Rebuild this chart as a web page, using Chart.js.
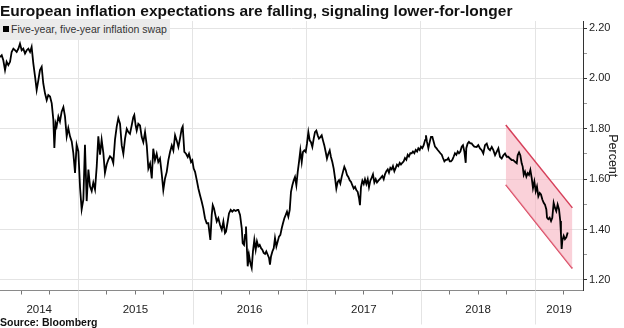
<!DOCTYPE html>
<html>
<head>
<meta charset="utf-8">
<script src="https://cdn.jsdelivr.net/npm/chart.js@4/dist/chart.umd.min.js"></script>
<style>
  html, body { margin: 0; padding: 0; background: #fff; }
  #wrap { position: relative; width: 624px; height: 328px; font-family: "Liberation Sans", Arial, sans-serif; }
  #title { position: absolute; left: 0; top: 2px; font-size: 15.5px; font-weight: bold; line-height: 17px; color: #111; white-space: nowrap; }
  #legend { position: absolute; left: 0; top: 19px; width: 170px; height: 21px; background: #ebebeb; font-size: 10.5px; line-height: 21px; color: #333; padding-left: 11px; box-sizing: border-box; white-space: nowrap; }
  #legend .sw { position: absolute; left: 3px; top: 7px; width: 6px; height: 6px; background: #000; }
  #source { position: absolute; left: 0; top: 316px; font-size: 10.5px; font-weight: bold; line-height: 12px; color: #111; }
</style>
</head>
<body>
<div id="wrap">
  <canvas id="chart"></canvas>
  <div id="title">European inflation expectations are falling, signaling lower-for-longer</div>
  <div id="legend"><span class="sw"></span>Five-year, five-year inflation swap</div>
  <div id="source">Source: Bloomberg</div>
</div>
<script>
"use strict";

// dates as decimal years, values in percent
const SWAP_DATES = [
  2014.314, 2014.329, 2014.343, 2014.358, 2014.372, 2014.387, 2014.402, 2014.416, 2014.431, 2014.445,
  2014.460, 2014.475, 2014.489, 2014.504, 2014.518, 2014.533, 2014.548, 2014.562, 2014.577, 2014.591,
  2014.606, 2014.621, 2014.635, 2014.650, 2014.664, 2014.679, 2014.693, 2014.708, 2014.723, 2014.737,
  2014.752, 2014.767, 2014.781, 2014.790, 2014.801, 2014.810, 2014.825, 2014.839, 2014.854, 2014.869,
  2014.883, 2014.898, 2014.912, 2014.927, 2014.942, 2014.956, 2014.971, 2014.985, 2015.000, 2015.015,
  2015.029, 2015.044, 2015.058, 2015.073, 2015.088, 2015.102, 2015.117, 2015.131, 2015.146, 2015.161,
  2015.175, 2015.190, 2015.204, 2015.219, 2015.233, 2015.248, 2015.263, 2015.277, 2015.292, 2015.306,
  2015.321, 2015.336, 2015.350,
  2015.365, 2015.380, 2015.394, 2015.409, 2015.424, 2015.438, 2015.452, 2015.467, 2015.481, 2015.490,
  2015.502, 2015.511, 2015.525, 2015.540, 2015.555, 2015.569, 2015.584, 2015.599, 2015.613, 2015.628,
  2015.643, 2015.656, 2015.671, 2015.686, 2015.700, 2015.715, 2015.730, 2015.744, 2015.759, 2015.774,
  2015.788, 2015.803, 2015.818, 2015.832, 2015.847, 2015.861, 2015.876, 2015.890, 2015.905, 2015.914,
  2015.928, 2015.943, 2015.958, 2015.969, 2015.987, 2015.998, 2016.010, 2016.022, 2016.037, 2016.051,
  2016.065, 2016.080, 2016.094, 2016.109, 2016.124, 2016.138, 2016.147, 2016.156, 2016.168, 2016.177,
  2016.188, 2016.197, 2016.212, 2016.226, 2016.241, 2016.256, 2016.270, 2016.284, 2016.293, 2016.308,
  2016.319, 2016.334, 2016.348, 2016.363, 2016.378, 2016.392,
  2016.401, 2016.416, 2016.431, 2016.439, 2016.451, 2016.460, 2016.468, 2016.477, 2016.483, 2016.494,
  2016.506, 2016.518, 2016.529, 2016.541, 2016.553, 2016.564, 2016.576, 2016.588, 2016.600, 2016.611,
  2016.623, 2016.635, 2016.646, 2016.658, 2016.670, 2016.678, 2016.687, 2016.699, 2016.711, 2016.722,
  2016.734, 2016.746, 2016.757, 2016.769, 2016.781, 2016.792, 2016.804, 2016.816, 2016.827, 2016.839,
  2016.851, 2016.862, 2016.874, 2016.886, 2016.897, 2016.909, 2016.921, 2016.932, 2016.944, 2016.956,
  2016.967, 2016.979, 2016.991, 2017.002, 2017.014, 2017.026, 2017.037, 2017.049, 2017.061, 2017.072,
  2017.084, 2017.096, 2017.107, 2017.119, 2017.131, 2017.142, 2017.154, 2017.166, 2017.177, 2017.189,
  2017.201, 2017.212, 2017.224, 2017.236, 2017.248, 2017.259, 2017.271, 2017.283, 2017.294, 2017.306,
  2017.317, 2017.329, 2017.341, 2017.353, 2017.364, 2017.376, 2017.388, 2017.399, 2017.411, 2017.423,
  2017.434, 2017.446, 2017.458, 2017.466,
  2017.475, 2017.487, 2017.499, 2017.510, 2017.522, 2017.534, 2017.545, 2017.557, 2017.569, 2017.580,
  2017.592, 2017.604, 2017.615, 2017.627, 2017.639, 2017.650, 2017.662, 2017.674, 2017.685, 2017.697,
  2017.709, 2017.720, 2017.732, 2017.744, 2017.755, 2017.767, 2017.779, 2017.790, 2017.802, 2017.814,
  2017.825, 2017.837, 2017.849, 2017.860, 2017.872, 2017.884, 2017.895, 2017.907, 2017.919, 2017.930,
  2017.942, 2017.954, 2017.966, 2017.977, 2017.989, 2018.000, 2018.012, 2018.024, 2018.036, 2018.044,
  2018.053, 2018.065, 2018.077, 2018.088, 2018.100, 2018.112, 2018.123, 2018.135, 2018.147, 2018.158,
  2018.170, 2018.182, 2018.193, 2018.205, 2018.217, 2018.228, 2018.240, 2018.252, 2018.263, 2018.275,
  2018.287, 2018.298, 2018.310, 2018.322, 2018.333, 2018.345, 2018.357, 2018.368, 2018.380, 2018.392,
  2018.397, 2018.409, 2018.420, 2018.432, 2018.444, 2018.455, 2018.467,
  2018.488, 2018.502, 2018.517, 2018.532, 2018.546, 2018.561, 2018.576, 2018.590, 2018.605, 2018.620,
  2018.634, 2018.649, 2018.663, 2018.678, 2018.692, 2018.707, 2018.722, 2018.736, 2018.751, 2018.765,
  2018.780, 2018.795, 2018.809, 2018.824, 2018.839, 2018.847, 2018.859, 2018.870, 2018.882, 2018.891,
  2018.900, 2018.911, 2018.923, 2018.935, 2018.946, 2018.958, 2018.970, 2018.981, 2018.993, 2019.005,
  2019.016, 2019.028, 2019.040, 2019.051, 2019.063, 2019.075, 2019.086, 2019.098, 2019.104, 2019.115,
  2019.127, 2019.139, 2019.150, 2019.162, 2019.174, 2019.185, 2019.197, 2019.209, 2019.220, 2019.226,
  2019.232, 2019.238, 2019.250, 2019.261, 2019.273, 2019.285,
];

const SWAP_VALUES = [
  2.085, 2.092, 2.072, 2.033, 2.066, 2.053, 2.066, 2.105, 2.118, 2.112,
  2.105, 2.118, 2.138, 2.112, 2.118, 2.099, 2.112, 2.118, 2.105, 2.125,
  2.059, 2.007, 1.954, 1.993, 2.033, 2.046, 1.980, 1.941, 1.914, 1.934,
  1.928, 1.901, 1.836, 1.724, 1.822, 1.809, 1.849, 1.829, 1.868, 1.886,
  1.849, 1.770, 1.803, 1.770, 1.750, 1.704, 1.625, 1.737, 1.711, 1.566,
  1.480, 1.520, 1.737, 1.513, 1.638, 1.572, 1.553, 1.586, 1.559, 1.651,
  1.770, 1.697, 1.757, 1.704, 1.625, 1.658, 1.678, 1.691, 1.684, 1.664,
  1.757, 1.809, 1.842,
  1.820, 1.734, 1.701, 1.761, 1.800, 1.787, 1.780, 1.813, 1.846, 1.855,
  1.813, 1.793, 1.820, 1.813, 1.767, 1.747, 1.787, 1.734, 1.642, 1.662,
  1.603, 1.721, 1.675, 1.701, 1.668, 1.682, 1.622, 1.557, 1.603, 1.629,
  1.675, 1.708, 1.734, 1.714, 1.774, 1.754, 1.728, 1.761, 1.800, 1.809,
  1.708, 1.701, 1.688, 1.701, 1.668, 1.675, 1.642, 1.629, 1.596, 1.563,
  1.537, 1.511, 1.484, 1.445, 1.425, 1.425, 1.392, 1.359, 1.458, 1.497,
  1.484, 1.464, 1.432, 1.445, 1.418, 1.399, 1.432, 1.386, 1.392, 1.432,
  1.464, 1.478, 1.471, 1.478, 1.474, 1.478,
  1.478, 1.458, 1.405, 1.346, 1.339, 1.379, 1.412, 1.313, 1.254, 1.300,
  1.267, 1.247, 1.313, 1.359, 1.320, 1.353, 1.333, 1.339, 1.326, 1.320,
  1.307, 1.303, 1.313, 1.300, 1.287, 1.261, 1.293, 1.313, 1.326, 1.366,
  1.333, 1.353, 1.372, 1.379, 1.405, 1.425, 1.445, 1.458, 1.471, 1.451,
  1.478, 1.550, 1.576, 1.596, 1.609, 1.576, 1.629, 1.668, 1.714, 1.668,
  1.708, 1.714, 1.708, 1.741, 1.787, 1.754, 1.747, 1.728, 1.761, 1.787,
  1.793, 1.774, 1.761, 1.767, 1.774, 1.754, 1.734, 1.708, 1.682, 1.701,
  1.714, 1.688, 1.668, 1.642, 1.603, 1.563, 1.589, 1.596, 1.583, 1.609,
  1.629, 1.649, 1.636, 1.616, 1.609, 1.596, 1.589, 1.576, 1.563, 1.570,
  1.557, 1.550, 1.524, 1.497,
  1.568, 1.594, 1.581, 1.600, 1.581, 1.600, 1.568, 1.594, 1.606, 1.619,
  1.587, 1.600, 1.587, 1.594, 1.600, 1.606, 1.613, 1.600, 1.619, 1.632,
  1.639, 1.626, 1.645, 1.639, 1.652, 1.632, 1.645, 1.658, 1.652, 1.665,
  1.658, 1.665, 1.671, 1.684, 1.677, 1.697, 1.690, 1.703, 1.703, 1.710,
  1.703, 1.716, 1.710, 1.723, 1.716, 1.729, 1.723, 1.735, 1.755, 1.774,
  1.748, 1.723, 1.748, 1.768, 1.768, 1.748, 1.729, 1.723, 1.716, 1.710,
  1.703, 1.697, 1.684, 1.671, 1.677, 1.677, 1.684, 1.671, 1.671, 1.677,
  1.690, 1.703, 1.697, 1.710, 1.703, 1.710, 1.729, 1.735, 1.710, 1.665,
  1.723, 1.742, 1.748, 1.742, 1.742, 1.735, 1.729,
  1.728, 1.735, 1.722, 1.715, 1.702, 1.735, 1.741, 1.722, 1.715, 1.728,
  1.715, 1.695, 1.708, 1.722, 1.689, 1.682, 1.695, 1.702, 1.689, 1.689,
  1.682, 1.676, 1.676, 1.669, 1.663, 1.695, 1.706, 1.695, 1.663, 1.650,
  1.617, 1.630, 1.610, 1.624, 1.617, 1.637, 1.604, 1.565, 1.591, 1.552,
  1.571, 1.532, 1.545, 1.539, 1.519, 1.506, 1.499, 1.480, 1.447, 1.441,
  1.447, 1.434, 1.447, 1.506, 1.486, 1.473, 1.499, 1.480, 1.434, 1.382,
  1.323, 1.356, 1.375, 1.362, 1.369, 1.388,
];

// shaded downward channel drawn over late 2018 - 2019
const CHANNEL_DATES = [2018.743, 2019.326];
const CHANNEL_TOP = [1.815, 1.486];
const CHANNEL_BOTTOM = [1.578, 1.245];

const X_MIN = 2014.314;
const X_MAX = 2019.419;
const Y_MIN = 1.158;
const Y_MAX = 2.228;

const YEAR_STARTS = [2015, 2016, 2017, 2018, 2019];
const YEAR_LABELS = ["2014", "2015", "2016", "2017", "2018", "2019"];
const YEAR_LABEL_AT = [2014.657, 2015.5, 2016.5, 2017.5, 2018.5, 2019.21];
const QUARTER_TICKS = [
  2014.5, 2014.75, 2015, 2015.25, 2015.5, 2015.75, 2016, 2016.25, 2016.5, 2016.75,
  2017, 2017.25, 2017.5, 2017.75, 2018, 2018.25, 2018.5, 2018.75, 2019, 2019.25,
];
const Y_TICKS = [1.2, 1.3, 1.4, 1.5, 1.6, 1.7, 1.8, 1.9, 2.0, 2.1, 2.2];

const FONT = "'Liberation Sans', Arial, sans-serif";
const GRID = "#e4e4e4";

const near = (a, b) => Math.abs(a - b) < 1e-6;
const isYearStart = (v) => YEAR_STARTS.some((y) => near(y, v));
const isQuarter = (v) => QUARTER_TICKS.some((q) => near(q, v));
const labelFor = (v) => {
  const i = YEAR_LABEL_AT.findIndex((p) => near(p, v));
  return i >= 0 ? YEAR_LABELS[i] : "";
};
const isMajorY = (v) => Math.round(v * 10) % 2 === 0;

const xTickValues = [...new Set([...QUARTER_TICKS, ...YEAR_LABEL_AT])].sort((a, b) => a - b);

// year separators run down through the label row below the axis
const yearRules = {
  id: "yearRules",
  afterDraw(chart) {
    const s = chart.scales.x;
    const c = chart.ctx;
    c.save();
    c.strokeStyle = GRID;
    c.lineWidth = 1;
    for (const yr of YEAR_STARTS) {
      const px = Math.round(s.getPixelForValue(yr)) + 0.5;
      c.beginPath();
      c.moveTo(px, s.top);
      c.lineTo(px, s.top + 34);
      c.stroke();
    }
    c.restore();
  },
};

new Chart(document.getElementById("chart"), {
  type: "line",
  data: {
    datasets: [
      {
        label: "Five-year, five-year inflation swap",
        data: SWAP_DATES.map((d, i) => ({ x: d, y: SWAP_VALUES[i] })),
        borderColor: "#000",
        borderWidth: 1.8,
        pointRadius: 0,
        tension: 0,
        fill: false,
      },
      {
        label: "channel top",
        data: CHANNEL_DATES.map((d, i) => ({ x: d, y: CHANNEL_TOP[i] })),
        borderColor: "#d6405a",
        borderWidth: 1.5,
        backgroundColor: "rgba(247, 178, 192, 0.6)",
        pointRadius: 0,
        fill: "+1",
      },
      {
        label: "channel bottom",
        data: CHANNEL_DATES.map((d, i) => ({ x: d, y: CHANNEL_BOTTOM[i] })),
        borderColor: "#d6405a",
        borderWidth: 1.5,
        pointRadius: 0,
        fill: false,
      },
    ],
  },
  options: {
    responsive: true,
    maintainAspectRatio: false,
    animation: false,
    layout: { padding: { top: 21, left: 0, right: 0, bottom: 0 } },
    plugins: { legend: { display: false }, tooltip: { enabled: false }, title: { display: false } },
    scales: {
      x: {
        type: "linear",
        min: X_MIN,
        max: X_MAX,
        afterBuildTicks: (s) => { s.ticks = xTickValues.map((v) => ({ value: v })); },
        afterFit: (s) => { s.height = 37.5; },
        grid: {
          color: (ctx) => (ctx.tick && isYearStart(ctx.tick.value) ? GRID : "transparent"),
          tickColor: (ctx) => (ctx.tick && isQuarter(ctx.tick.value) && !isYearStart(ctx.tick.value) ? "#777" : "transparent"),
          tickLength: 4,
        },
        border: { color: "#8a8a8a" },
        ticks: {
          autoSkip: false,
          maxRotation: 0,
          minRotation: 0,
          padding: 8,
          color: "#222",
          font: { family: FONT, size: 11.5 },
          callback: (v) => labelFor(v),
        },
      },
      y: {
        position: "right",
        min: Y_MIN,
        max: Y_MAX,
        afterBuildTicks: (s) => { s.ticks = Y_TICKS.map((v) => ({ value: v })); },
        afterFit: (s) => { s.width = 41; },
        grid: {
          color: (ctx) => (ctx.tick && isMajorY(ctx.tick.value) ? GRID : "transparent"),
          tickColor: (ctx) => (ctx.tick && isMajorY(ctx.tick.value) ? "#333" : "#999"),
          tickLength: 4,
        },
        border: { color: "#333" },
        ticks: {
          padding: 2,
          color: "#222",
          font: { family: FONT, size: 11 },
          callback: (v) => (isMajorY(v) ? v.toFixed(2) : ""),
        },
        title: {
          display: true,
          text: "Percent",
          color: "#222",
          font: { family: FONT, size: 12.5 },
          padding: { top: 4, bottom: 0 },
        },
      },
    },
  },
  plugins: [yearRules],
});
</script>
</body>
</html>
